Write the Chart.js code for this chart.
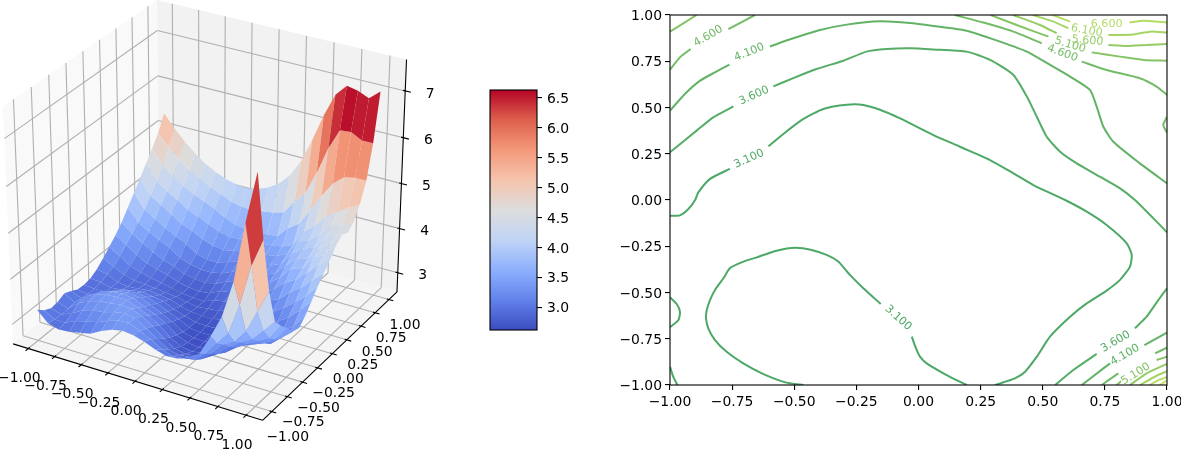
<!DOCTYPE html>
<html>
<head>
<meta charset="utf-8">
<script src="https://cdn.jsdelivr.net/npm/chart.js@4"></script>
<style>
  html, body { margin: 0; padding: 0; background: #fff; }
  canvas { position: absolute; top: 0; }
  #surface { left: 0; }
  #colorbar { left: 470px; }
  #contours { left: 620px; }
</style>
</head>
<body>
<canvas id="surface" width="450" height="450"></canvas>
<canvas id="colorbar" width="120" height="450"></canvas>
<canvas id="contours" width="561" height="450"></canvas>
<script>
'use strict';

/* Values */
const axisTicks = [-1, -0.75, -0.5, -0.25, 0, 0.25, 0.5, 0.75, 1];
const zTicks = [3, 4, 5, 6, 7];
const colorbarTicks = [3, 3.5, 4, 4.5, 5, 5.5, 6, 6.5];
const colorbarRange = [2.62, 6.63];
const gridX = [-1, -0.9, -0.8, -0.7, -0.6, -0.5, -0.4, -0.3, -0.2, -0.1, 0, 0.1, 0.2, 0.3, 0.4, 0.5, 0.6, 0.7, 0.8, 0.9, 1];
const gridY = [-1, -0.9, -0.8, -0.7, -0.6, -0.5, -0.4, -0.3, -0.2, -0.1, 0, 0.1, 0.2, 0.3, 0.4, 0.5, 0.6, 0.7, 0.8, 0.9, 1];

// one row per x, one column per y
const surfaceZ = [
  [3.25, 3.12, 3.04, 3.06, 3.13, 3.07, 2.98, 2.97, 3.00, 3.09, 3.22, 3.37, 3.52, 3.70, 3.92, 4.14, 4.36, 4.59, 4.82, 5.07, 5.40],
  [3.02, 2.98, 2.97, 2.98, 3.00, 2.98, 2.95, 2.95, 2.98, 3.04, 3.10, 3.22, 3.37, 3.50, 3.65, 3.83, 4.03, 4.27, 4.50, 4.80, 5.12],
  [2.95, 2.98, 3.07, 3.18, 3.22, 3.14, 3.02, 2.95, 2.92, 2.93, 2.98, 3.07, 3.20, 3.35, 3.50, 3.68, 3.89, 4.09, 4.33, 4.60, 4.88],
  [2.97, 3.09, 3.20, 3.28, 3.32, 3.28, 3.15, 3.05, 2.95, 2.90, 2.92, 2.98, 3.08, 3.22, 3.38, 3.54, 3.73, 3.95, 4.17, 4.42, 4.68],
  [3.02, 3.15, 3.28, 3.36, 3.38, 3.33, 3.22, 3.11, 3.00, 2.92, 2.90, 2.93, 3.00, 3.10, 3.27, 3.42, 3.58, 3.80, 4.03, 4.28, 4.50],
  [3.07, 3.20, 3.30, 3.38, 3.40, 3.35, 3.25, 3.13, 3.03, 2.95, 2.88, 2.88, 2.95, 3.02, 3.10, 3.30, 3.49, 3.69, 3.94, 4.15, 4.38],
  [3.20, 3.30, 3.38, 3.42, 3.40, 3.32, 3.22, 3.11, 3.00, 2.92, 2.85, 2.83, 2.85, 2.92, 3.02, 3.15, 3.37, 3.59, 3.83, 4.05, 4.28],
  [3.30, 3.38, 3.42, 3.40, 3.30, 3.20, 3.12, 3.03, 2.96, 2.88, 2.82, 2.78, 2.80, 2.87, 2.97, 3.08, 3.28, 3.49, 3.69, 3.95, 4.22],
  [3.35, 3.40, 3.38, 3.30, 3.20, 3.10, 3.00, 2.92, 2.85, 2.80, 2.77, 2.75, 2.78, 2.85, 2.97, 3.08, 3.25, 3.43, 3.60, 3.90, 4.20],
  [3.32, 3.30, 3.22, 3.15, 3.05, 2.97, 2.88, 2.82, 2.77, 2.74, 2.73, 2.74, 2.80, 2.90, 3.02, 3.16, 3.30, 3.45, 3.57, 3.88, 4.25],
  [3.25, 3.18, 3.06, 2.95, 2.85, 2.78, 2.72, 2.70, 2.70, 2.72, 2.76, 2.83, 2.92, 3.02, 3.12, 3.23, 3.35, 3.46, 3.56, 3.92, 4.35],
  [3.15, 3.03, 2.90, 2.80, 2.72, 2.68, 2.66, 2.66, 2.68, 2.72, 2.78, 2.87, 2.96, 3.07, 3.17, 3.27, 3.38, 3.48, 3.58, 3.96, 4.50],
  [3.08, 2.95, 2.85, 2.75, 2.68, 2.65, 2.65, 2.67, 2.70, 2.78, 2.86, 2.95, 3.03, 3.13, 3.22, 3.32, 3.41, 3.51, 3.60, 4.03, 4.75],
  [3.10, 2.98, 2.88, 2.78, 2.72, 2.68, 2.68, 2.70, 2.78, 2.85, 2.92, 3.00, 3.09, 3.18, 3.26, 3.35, 3.45, 3.55, 3.85, 4.33, 5.12],
  [3.20, 3.02, 2.90, 2.82, 2.76, 2.73, 2.75, 2.80, 2.87, 2.95, 3.00, 3.07, 3.17, 3.26, 3.36, 3.46, 3.56, 3.65, 4.02, 4.60, 5.65],
  [3.35, 3.22, 3.10, 2.97, 2.87, 2.82, 2.83, 2.87, 2.93, 3.00, 3.06, 3.17, 3.30, 3.45, 3.61, 3.76, 3.90, 4.02, 4.38, 5.10, 6.25],
  [3.80, 3.52, 3.36, 3.19, 3.05, 2.97, 2.96, 2.98, 3.01, 3.05, 3.11, 3.28, 3.52, 3.72, 3.82, 3.92, 4.00, 4.22, 4.76, 5.70, 6.75],
  [4.30, 3.81, 3.50, 3.36, 3.20, 3.07, 3.00, 2.97, 3.00, 3.08, 3.28, 3.49, 3.66, 3.78, 3.90, 4.02, 4.20, 4.50, 5.10, 6.15, 7.00],
  [5.10, 4.50, 3.80, 3.50, 3.34, 3.17, 3.03, 2.98, 3.06, 3.26, 3.45, 3.67, 3.88, 4.10, 4.20, 4.33, 4.47, 4.65, 5.30, 6.17, 6.95],
  [6.40, 5.40, 4.30, 3.76, 3.47, 3.32, 3.24, 3.20, 3.26, 3.48, 3.68, 3.90, 4.12, 4.22, 4.35, 4.42, 4.53, 4.80, 5.35, 6.05, 6.85],
  [7.50, 6.00, 4.80, 4.03, 3.82, 3.65, 3.45, 3.40, 3.55, 3.75, 3.95, 4.12, 4.30, 4.50, 4.62, 4.55, 4.68, 4.95, 5.35, 6.05, 7.05],
];

// contour lines as [x, y] runs, broken where a label sits
const contour31 = [
  [[-1, -0.085], [-0.96, -0.083], [-0.926, -0.049], [-0.899, 0], [-0.886, 0.041], [-0.839, 0.114], [-0.759, 0.168]],
  [[-0.604, 0.29], [-0.544, 0.357], [-0.463, 0.438], [-0.383, 0.492], [-0.289, 0.515], [-0.222, 0.514], [-0.155, 0.488], [-0.074, 0.441], [0.06, 0.351], [0.167, 0.288], [0.288, 0.216], [0.382, 0.144], [0.462, 0.081], [0.59, 0], [0.677, -0.063], [0.757, -0.135], [0.838, -0.234], [0.858, -0.297], [0.851, -0.36], [0.811, -0.432], [0.757, -0.49], [0.677, -0.559], [0.61, -0.631], [0.529, -0.739], [0.476, -0.847], [0.429, -0.928], [0.388, -0.964], [0.308, -1]],
  [[0.194, -1], [0.113, -0.946], [0.033, -0.883], [0.006, -0.847], [-0.01, -0.802], [-0.027, -0.739]],
  [[-0.152, -0.562], [-0.222, -0.477], [-0.276, -0.405], [-0.323, -0.333], [-0.37, -0.297], [-0.43, -0.27], [-0.497, -0.258], [-0.571, -0.274], [-0.651, -0.31], [-0.712, -0.337], [-0.759, -0.369], [-0.785, -0.423], [-0.819, -0.486], [-0.839, -0.541], [-0.852, -0.595], [-0.855, -0.64], [-0.846, -0.694], [-0.819, -0.757], [-0.772, -0.82], [-0.705, -0.883], [-0.624, -0.941], [-0.531, -0.987], [-0.463, -1]],
  [[-1, -0.526], [-0.973, -0.562], [-0.96, -0.604], [-0.966, -0.649], [-1, -0.688]],
  [[-1, -0.9], [-0.987, -0.955], [-0.97, -1]],
];
const contour36 = [
  [[-1, 0.258], [-0.893, 0.375], [-0.826, 0.447], [-0.745, 0.506]],
  [[-0.584, 0.614], [-0.504, 0.659], [-0.41, 0.708], [-0.302, 0.753], [-0.209, 0.802], [-0.128, 0.816], [-0.034, 0.82], [0.06, 0.814], [0.194, 0.802], [0.288, 0.757], [0.382, 0.676], [0.436, 0.559], [0.476, 0.45], [0.516, 0.342], [0.57, 0.261], [0.637, 0.198], [0.73, 0.126], [0.811, 0.063], [0.871, 0], [0.932, -0.081], [1, -0.175]],
  [[0.55, -1], [0.623, -0.919], [0.717, -0.832]],
  [[0.871, -0.694], [0.918, -0.631], [0.965, -0.541], [1, -0.477]],
];
const contour41 = [
  [[-1, 0.483], [-0.94, 0.573], [-0.879, 0.645], [-0.819, 0.69], [-0.761, 0.732]],
  [[-0.598, 0.83], [-0.504, 0.874], [-0.396, 0.919], [-0.289, 0.948], [-0.155, 0.966], [-0.034, 0.957], [0.06, 0.941], [0.194, 0.915], [0.328, 0.856], [0.436, 0.802], [0.53, 0.73], [0.61, 0.667], [0.69, 0.595], [0.717, 0.505], [0.744, 0.396], [0.784, 0.315], [0.891, 0.198], [1, 0.09]],
  [[0.657, -1], [0.744, -0.91], [0.771, -0.883]],
  [[0.909, -0.784], [1, -0.717]],
];
const contour46 = [
  [[-1, 0.705], [-0.96, 0.771], [-0.917, 0.816]],
  [[-0.765, 0.924], [-0.658, 1]],
  [[0.147, 1], [0.261, 0.959], [0.382, 0.91], [0.496, 0.847]],
  [[0.657, 0.748], [0.757, 0.703], [0.891, 0.658], [0.958, 0.613], [1, 0.568]],
  [[1, 0.45], [0.985, 0.405], [1, 0.364]],
  [[0.737, -1], [0.804, -0.937]],
  [[0.952, -0.829], [1, -0.798]],
];
const contour51 = [
  [[-1, 0.91], [-0.893, 1]],
  [[0.29, 1], [0.395, 0.946], [0.523, 0.883]],
  [[0.697, 0.798], [0.811, 0.775], [0.905, 0.757], [1, 0.753]],
  [[0.797, -1], [0.815, -0.98]],
  [[0.958, -0.865], [1, -0.847]],
];
const contour56 = [
  [[0.38, 1], [0.489, 0.946], [0.556, 0.901]],
  [[0.764, 0.838], [0.838, 0.832], [0.918, 0.838], [1, 0.843]],
  [[0.851, -1], [0.918, -0.937], [1, -0.886]],
];
const contour61 = [
  [[0.46, 1], [0.543, 0.964], [0.603, 0.928]],
  [[0.764, 0.892], [0.865, 0.895], [0.932, 0.91], [1, 0.906]],
  [[0.892, -1], [0.958, -0.95], [1, -0.925]],
];
const contour66 = [
  [[0.54, 1], [0.61, 0.964]],
  [[0.849, 0.96], [0.905, 0.969], [1, 0.959]],
  [[0.93, -1], [0.972, -0.97], [1, -0.957]],
];
const contour71 = [
  [[0.972, -1], [1, -0.975]],
];
const contourLevels = [contour31, contour36, contour41, contour46, contour51, contour56, contour61, contour66, contour71];

const labelText = ['3.100', '3.100', '3.600', '3.600', '4.100', '4.100', '4.600', '4.600', '5.100', '5.100', '5.600', '6.100', '6.600'];
const labelX = [-0.682, -0.082, -0.662, 0.793, -0.681, 0.831, -0.846, 0.579, 0.61, 0.874, 0.68, 0.677, 0.757];
const labelY = [0.222, -0.638, 0.564, -0.766, 0.798, -0.838, 0.885, 0.793, 0.838, -0.94, 0.861, 0.915, 0.951];
const labelAngle = [-24, 42, -24, -30, -22, -30, -30, 20, 17, -32, 5, 10, 0];
const labelLevel = [0, 0, 1, 1, 2, 2, 3, 3, 4, 4, 5, 6, 7];

/* Styling */
const levelColors = ['#4ca866', '#55ad66', '#62b366', '#73bb66', '#84c466', '#95cc66', '#a5d566', '#b5dd66', '#c5e566'];
const coolwarmStops = [[59, 76, 192], [98, 130, 234], [141, 176, 254], [192, 212, 245], [221, 221, 221], [245, 196, 173], [244, 153, 122], [222, 96, 77], [180, 4, 38]];
const fontFamily = '"DejaVu Sans"';
const tickFontSize = 13.9;

Chart.defaults.font.family = fontFamily;
Chart.defaults.font.size = tickFontSize;
Chart.defaults.color = '#000';
Chart.defaults.animation = false;

const formatTick = (v) => v.toFixed(2).replace('-', '\u2212');

const coolwarm = (t) => {
  const f = Math.min(Math.max(t, 0), 1) * (coolwarmStops.length - 1);
  const i = Math.min(Math.floor(f), coolwarmStops.length - 2);
  const a = coolwarmStops[i];
  const b = coolwarmStops[i + 1];
  const c = [0, 1, 2].map((k) => Math.round(a[k] + (b[k] - a[k]) * (f - i)));
  return `rgb(${c[0]},${c[1]},${c[2]})`;
};

/* 3D view: elev 30, azim -60, eye at distance 10 from a unit cube */
const xyLimit = 1.146;
const zLow = 2.56;
const zHigh = 7.66;
const viewU = [0.866, 0.5, 0];
const viewV = [-0.25, 0.433, 0.866];
const viewW = [0.433, -0.75, 0.5];
const dot = (a, b) => a[0] * b[0] + a[1] * b[1] + a[2] * b[2];

const toBox = (x, y, z) => [
  (x + xyLimit) / (2 * xyLimit) - 0.5,
  (y + xyLimit) / (2 * xyLimit) - 0.5,
  (z - zLow) / (zHigh - zLow) - 0.5,
];
const project = (x, y, z) => {
  const p = toBox(x, y, z);
  const d = 10 - dot(viewW, p);
  return { x: dot(viewU, p) / d, y: dot(viewV, p) / d };
};
const depth = (x, y, z) => dot(viewW, toBox(x, y, z));

const polygon = (corners, color) => ({
  data: corners.map((c) => project(c[0], c[1], c[2])),
  showLine: true,
  fill: 'shape',
  backgroundColor: color,
  borderWidth: 0,
  pointRadius: 0,
  tension: 0,
});
const segment = (from, to, color, width) => ({
  data: [project(from[0], from[1], from[2]), project(to[0], to[1], to[2])],
  showLine: true,
  fill: false,
  borderColor: color,
  borderWidth: width,
  pointRadius: 0,
  tension: 0,
});

const buildSurfaceDatasets = () => {
  const L = xyLimit;
  const list = [];
  // panes
  list.push(polygon([[-L, -L, zLow], [-L, L, zLow], [-L, L, zHigh], [-L, -L, zHigh]], '#f9f9f9'));
  list.push(polygon([[-L, L, zLow], [L, L, zLow], [L, L, zHigh], [-L, L, zHigh]], '#f2f2f2'));
  list.push(polygon([[-L, -L, zLow], [L, -L, zLow], [L, L, zLow], [-L, L, zLow]], '#f5f5f5'));
  // grid lines
  const gridColor = '#b0b0b0';
  axisTicks.forEach((t) => {
    list.push(segment([t, -L, zLow], [t, L, zLow], gridColor, 1.1));
    list.push(segment([t, L, zLow], [t, L, zHigh], gridColor, 1.1));
    list.push(segment([-L, t, zLow], [L, t, zLow], gridColor, 1.1));
    list.push(segment([-L, t, zLow], [-L, t, zHigh], gridColor, 1.1));
  });
  zTicks.forEach((z) => {
    list.push(segment([-L, -L, z], [-L, L, z], gridColor, 1.1));
    list.push(segment([-L, L, z], [L, L, z], gridColor, 1.1));
  });
  // axis lines and tick marks
  list.push(segment([-L, -L, zLow], [L, -L, zLow], '#000', 1.1));
  list.push(segment([L, -L, zLow], [L, L, zLow], '#000', 1.1));
  list.push(segment([L, L, zLow], [L, L, zHigh], '#000', 1.1));
  axisTicks.forEach((t) => {
    list.push(segment([t, -L + 0.02, zLow], [t, -L - 0.04, zLow], '#000', 1.1));
    list.push(segment([L - 0.02, t, zLow], [L + 0.04, t, zLow], '#000', 1.1));
  });
  zTicks.forEach((z) => {
    list.push(segment([L - 0.02, L, z], [L + 0.05, L, z], '#000', 1.1));
  });
  // facets, far ones first
  const facets = [];
  for (let i = 0; i < gridX.length - 1; i++) {
    for (let j = 0; j < gridY.length - 1; j++) {
      const corners = [
        [gridX[i], gridY[j], surfaceZ[i][j]],
        [gridX[i + 1], gridY[j], surfaceZ[i + 1][j]],
        [gridX[i + 1], gridY[j + 1], surfaceZ[i + 1][j + 1]],
        [gridX[i], gridY[j + 1], surfaceZ[i][j + 1]],
      ];
      const mean = corners.reduce((s, c) => s + c[2], 0) / 4;
      const far = corners.reduce((s, c) => s + depth(c[0], c[1], c[2]), 0) / 4;
      const t = (mean - colorbarRange[0]) / (colorbarRange[1] - colorbarRange[0]);
      facets.push({ far, set: polygon(corners, coolwarm(t)) });
    }
  }
  facets.sort((a, b) => a.far - b.far);
  facets.forEach((f) => list.push(f.set));
  // Chart.js paints the first dataset last
  return list.reverse();
};

const axisLabels3d = {
  id: 'axisLabels3d',
  afterDatasetsDraw(chart) {
    const { ctx, scales } = chart;
    const L = xyLimit;
    const put = (text, p, dx, dy) => {
      ctx.fillText(text, scales.x.getPixelForValue(p.x) + dx, scales.y.getPixelForValue(p.y) + dy);
    };
    ctx.save();
    ctx.font = `${tickFontSize}px ${fontFamily}`;
    ctx.fillStyle = '#000';
    ctx.textAlign = 'center';
    ctx.textBaseline = 'middle';
    axisTicks.forEach((t) => {
      put(formatTick(t), project(t, -L, zLow), -9, 30);
      put(formatTick(t), project(L, t, zLow), 16, 26);
    });
    zTicks.forEach((z) => {
      put(String(z), project(L, L, z), 25, 3);
    });
    ctx.restore();
  },
};

new Chart(document.getElementById('surface'), {
  type: 'scatter',
  data: { datasets: buildSurfaceDatasets() },
  plugins: [axisLabels3d],
  options: {
    responsive: false,
    devicePixelRatio: 1,
    events: [],
    layout: { padding: 0 },
    plugins: { legend: { display: false }, tooltip: { enabled: false } },
    scales: {
      x: { type: 'linear', display: false, min: -208 / 2880, max: 242 / 2880 },
      y: { type: 'linear', display: false, min: -247 / 2710, max: 203 / 2710 },
    },
  },
});

const frame = {
  id: 'frame',
  afterDatasetsDraw(chart) {
    const { ctx, chartArea: a } = chart;
    ctx.save();
    ctx.strokeStyle = '#000';
    ctx.lineWidth = 1.1;
    ctx.strokeRect(a.left, a.top, a.right - a.left, a.bottom - a.top);
    ctx.restore();
  },
};

new Chart(document.getElementById('colorbar'), {
  type: 'bar',
  data: {
    labels: [''],
    datasets: [{
      data: [colorbarRange],
      barPercentage: 1,
      categoryPercentage: 1,
      backgroundColor(c) {
        const area = c.chart.chartArea;
        if (!area) return '#ccc';
        const g = c.chart.ctx.createLinearGradient(0, area.bottom, 0, area.top);
        coolwarmStops.forEach((s, i) => {
          g.addColorStop(i / (coolwarmStops.length - 1), `rgb(${s[0]},${s[1]},${s[2]})`);
        });
        return g;
      },
    }],
  },
  plugins: [frame],
  options: {
    responsive: false,
    devicePixelRatio: 1,
    events: [],
    layout: { padding: { left: 20, top: 90, bottom: 120, right: 0 } },
    plugins: { legend: { display: false }, tooltip: { enabled: false } },
    scales: {
      x: { display: false },
      y: {
        position: 'right',
        min: colorbarRange[0],
        max: colorbarRange[1],
        afterBuildTicks: (s) => { s.ticks = colorbarTicks.map((v) => ({ value: v })); },
        afterFit: (s) => { s.width = 53; },
        ticks: { callback: (v) => v.toFixed(1), padding: 5, autoSkip: false, labelOffset: 1.5 },
        grid: { drawOnChartArea: false, tickLength: 5, color: '#000', lineWidth: 1.1 },
        border: { display: false },
      },
    },
  },
});

const contourLabels = {
  id: 'contourLabels',
  afterDatasetsDraw(chart) {
    const { ctx, scales } = chart;
    ctx.save();
    ctx.font = `11.1px ${fontFamily}`;
    ctx.textAlign = 'center';
    ctx.textBaseline = 'middle';
    labelText.forEach((text, i) => {
      ctx.save();
      ctx.translate(scales.x.getPixelForValue(labelX[i]), scales.y.getPixelForValue(labelY[i]));
      ctx.rotate(labelAngle[i] * Math.PI / 180);
      ctx.fillStyle = levelColors[labelLevel[i]];
      ctx.fillText(text, 0, 0);
      ctx.restore();
    });
    ctx.restore();
  },
};

const contourDatasets = [];
contourLevels.forEach((runs, level) => {
  runs.forEach((run) => {
    contourDatasets.push({
      data: run.map((p) => ({ x: p[0], y: p[1] })),
      showLine: true,
      borderColor: levelColors[level],
      borderWidth: 2,
      pointRadius: 0,
      tension: 0.2,
    });
  });
});

new Chart(document.getElementById('contours'), {
  type: 'scatter',
  data: { datasets: contourDatasets },
  plugins: [contourLabels, frame],
  options: {
    responsive: false,
    devicePixelRatio: 1,
    events: [],
    layout: { padding: { left: 0, top: 15, right: 14, bottom: 0 } },
    plugins: { legend: { display: false }, tooltip: { enabled: false } },
    scales: {
      x: {
        type: 'linear',
        min: -1,
        max: 1,
        afterBuildTicks: (s) => { s.ticks = axisTicks.map((v) => ({ value: v })); },
        afterFit: (s) => { s.height = 65; s.paddingRight = 0; s.paddingLeft = 0; },
        ticks: { callback: formatTick, maxRotation: 0, autoSkip: false, padding: 4 },
        grid: { drawOnChartArea: false, tickLength: 5, color: '#000', lineWidth: 1.1 },
        border: { display: false },
      },
      y: {
        type: 'linear',
        min: -1,
        max: 1,
        afterBuildTicks: (s) => { s.ticks = axisTicks.map((v) => ({ value: v })); },
        afterFit: (s) => { s.width = 50; s.paddingTop = 0; s.paddingBottom = 0; },
        ticks: { callback: formatTick, autoSkip: false, padding: 3, labelOffset: 1.5 },
        grid: { drawOnChartArea: false, tickLength: 5, color: '#000', lineWidth: 1.1 },
        border: { display: false },
      },
    },
  },
});
</script>
</body>
</html>
